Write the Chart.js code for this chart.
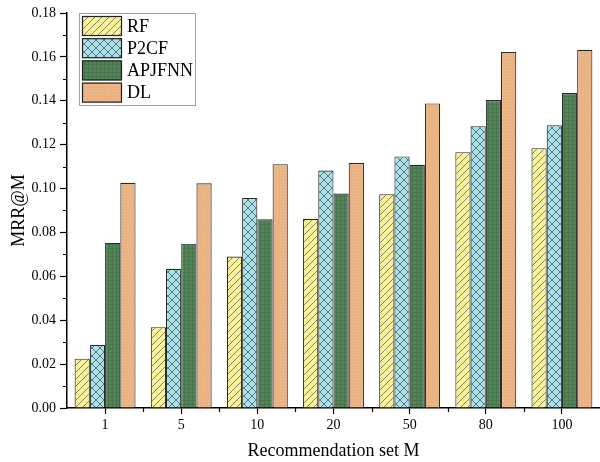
<!DOCTYPE html>
<html>
<head>
<meta charset="utf-8">
<script src="https://cdn.jsdelivr.net/npm/chart.js@4.4.1/dist/chart.umd.min.js"></script>
<style>
  html, body { margin: 0; padding: 0; background: #fff; }
  #wrap { width: 600px; height: 462px; position: relative; }
</style>
</head>
<body>
<div id="wrap"><canvas id="mrrChart"></canvas></div>
<script>
// Data
const categories = ['1', '5', '10', '20', '50', '80', '100'];
const seriesNames = ['RF', 'P2CF', 'APJFNN', 'DL'];
const rfValues = [0.0225, 0.0368, 0.0690, 0.0862, 0.0974, 0.1166, 0.1184];
const p2cfValues = [0.0287, 0.0634, 0.0957, 0.1082, 0.1146, 0.1284, 0.1289];
const apjfnnValues = [0.0752, 0.0749, 0.0860, 0.0977, 0.1108, 0.1403, 0.1435];
const dlValues = [0.1026, 0.1024, 0.1111, 0.1116, 0.1388, 0.1622, 0.1632];
const yMin = 0, yMax = 0.18, yStep = 0.02;

const FONT = "'Liberation Serif', 'Times New Roman', serif";

// Hatch fills
function makePattern(bg, size, draw) {
    const c = document.createElement('canvas');
    c.width = size; c.height = size;
    const g = c.getContext('2d');
    g.fillStyle = bg;
    g.fillRect(0, 0, size, size);
    draw(g, size);
    return g.createPattern(c, 'repeat');
}

const rfFill = makePattern('#f8f29a', 7, (g, s) => {
    g.strokeStyle = '#77765a';
    g.lineWidth = 0.9;
    g.beginPath();
    g.moveTo(0, s); g.lineTo(s, 0);
    g.moveTo(-1, 1); g.lineTo(1, -1);
    g.moveTo(s - 1, s + 1); g.lineTo(s + 1, s - 1);
    g.stroke();
});
const p2cfFill = makePattern('#ade2e8', 8, (g, s) => {
    g.strokeStyle = '#4d6c72';
    g.lineWidth = 0.9;
    g.beginPath();
    g.moveTo(0, 0); g.lineTo(s, s);
    g.moveTo(0, s); g.lineTo(s, 0);
    g.stroke();
});
const apjfnnFill = makePattern('#55835a', 4, (g, s) => {
    g.fillStyle = '#48744c';
    g.fillRect(0, 0, s, 1);
    g.fillRect(0, 0, 1, s);
});
const dlFill = makePattern('#e8b283', 3, (g, s) => {
    g.fillStyle = '#eec096';
    g.fillRect(1, 1, 1, 1);
});

// minor ticks on both axes
const minorTicks = {
    id: 'minorTicks',
    afterDraw(chart) {
        const { ctx, scales: { x, y } } = chart;
        ctx.save();
        ctx.strokeStyle = '#000';
        ctx.lineWidth = 1.2;
        ctx.beginPath();
        for (let v = yMin + yStep / 2; v < yMax; v += yStep) {
            const py = Math.round(y.getPixelForValue(v)) + 0.5;
            ctx.moveTo(y.right - 4, py);
            ctx.lineTo(y.right, py);
        }
        const half = (x.getPixelForValue(1) - x.getPixelForValue(0)) / 2;
        for (let i = 0; i < categories.length - 1; i++) {
            const px = Math.round(x.getPixelForValue(i) + half) + 0.5;
            ctx.moveTo(px, x.top);
            ctx.lineTo(px, x.top + 4);
        }
        ctx.stroke();
        ctx.restore();
    }
};

// boxed legend in the top-left corner of the plot
const boxLegend = {
    id: 'boxLegend',
    afterDraw(chart) {
        const { ctx, chartArea } = chart;
        const bx = chartArea.left + 12, by = chartArea.top;
        const bw = 116, bh = 92;
        ctx.save();
        ctx.fillStyle = '#fff';
        ctx.fillRect(bx, by, bw, bh);
        ctx.strokeStyle = '#a0a0a0';
        ctx.lineWidth = 1;
        ctx.strokeRect(bx + 0.5, by + 0.5, bw, bh);
        chart.data.datasets.forEach((ds, i) => {
            const sy = by + 3 + i * 22.2;
            ctx.fillStyle = ds.backgroundColor;
            ctx.fillRect(bx + 3, sy, 40, 20);
            ctx.strokeStyle = '#222';
            ctx.lineWidth = 1.2;
            ctx.strokeRect(bx + 3.5, sy + 0.5, 39, 19);
            ctx.fillStyle = '#000';
            ctx.font = '18px ' + FONT;
            ctx.textBaseline = 'middle';
            ctx.fillText(ds.label, bx + 48, sy + 11);
        });
        ctx.restore();
    }
};

const fills = [rfFill, p2cfFill, apjfnnFill, dlFill];
const values = [rfValues, p2cfValues, apjfnnValues, dlValues];

const ctx = document.getElementById('mrrChart').getContext('2d');
new Chart(ctx, {
    type: 'bar',
    data: {
        labels: categories,
        datasets: seriesNames.map((name, i) => ({
            label: name,
            data: values[i],
            backgroundColor: fills[i],
            borderColor: '#2a2a2a',
            borderWidth: 1.1,
            categoryPercentage: 0.8,
            barPercentage: 1.0
        }))
    },
    options: {
        responsive: true,
        maintainAspectRatio: false,
        animation: false,
        layout: { padding: { top: 13, right: 0, bottom: 0, left: 0 } },
        plugins: {
            legend: { display: false },
            tooltip: { enabled: false }
        },
        scales: {
            x: {
                grid: {
                    offset: false,
                    drawOnChartArea: false,
                    drawTicks: true,
                    tickLength: 6,
                    tickColor: '#000',
                    tickWidth: 1.2
                },
                border: { display: true, color: '#000', width: 1.5 },
                ticks: {
                    color: '#000',
                    padding: 3,
                    maxRotation: 0,
                    font: { family: FONT, size: 14 }
                },
                title: {
                    display: true,
                    text: 'Recommendation set M',
                    color: '#000',
                    padding: { top: 0, bottom: 0 },
                    font: { family: FONT, size: 18 }
                },
                afterFit(scale) { scale.height = 54; }
            },
            y: {
                min: yMin,
                max: yMax,
                grid: {
                    drawOnChartArea: false,
                    drawTicks: true,
                    tickLength: 7,
                    tickColor: '#000',
                    tickWidth: 1.2
                },
                border: { display: true, color: '#000', width: 1.5 },
                ticks: {
                    stepSize: yStep,
                    color: '#000',
                    padding: 4,
                    font: { family: FONT, size: 14 },
                    callback: v => v.toFixed(2)
                },
                title: {
                    display: true,
                    text: 'MRR@M',
                    color: '#000',
                    padding: { top: 8, bottom: 0 },
                    font: { family: FONT, size: 18 }
                },
                afterFit(scale) { scale.width = 67; }
            }
        }
    },
    plugins: [minorTicks, boxLegend]
});
</script>
</body>
</html>
